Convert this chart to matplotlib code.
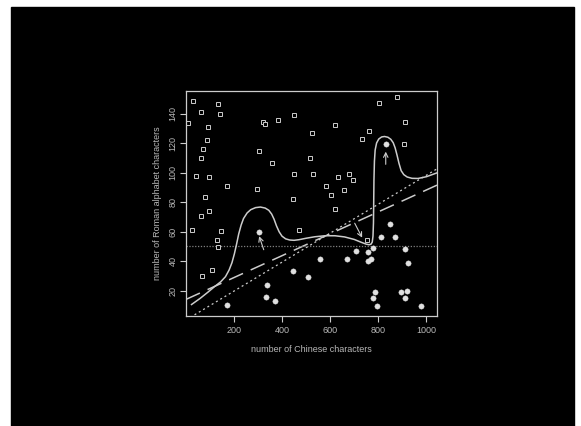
import numpy as np
import matplotlib.pyplot as plt
from matplotlib.patches import Rectangle

# squares (hollow) - x = Chinese chars, y = Roman chars
sq_x = [10, 29, 62, 93, 135, 141, 88, 73, 62, 44, 95, 82, 62, 98, 27, 145, 128, 134,
        67, 110, 171, 321, 330, 384, 448, 303, 359, 297, 445, 450, 471, 526, 515, 527,
        581, 602, 622, 619, 631, 659, 677, 695, 731, 761, 802, 879, 911, 905, 752]
sq_y = [134, 149, 141, 131, 147, 140, 122, 116, 110, 98, 97, 83.5, 70.8, 74, 61.2, 60.8,
        54.5, 49.8, 30.3, 34, 91.4, 134.6, 133, 135.7, 139.1, 114.7, 106.6, 89.2, 82.2,
        99.1, 61, 127.1, 109.8, 99.5, 91.4, 85.2, 75.5, 132.7, 97.4, 88.7, 99.5, 95,
        122.8, 128.4, 147.5, 151.6, 134.8, 119.6, 54.3]

# filled circles
ci_x = [303, 830, 338, 335, 372, 170, 445, 507, 559, 668, 708, 758, 756, 769, 777,
        810, 850, 869, 912, 925, 787, 780, 794, 894, 910, 921, 979]
ci_y = [59.8, 119.7, 24, 15.7, 13.1, 10, 33.2, 29.6, 41.5, 41.6, 46.9, 46, 40.2, 41.3,
        49, 56.6, 65, 56.3, 48.2, 39, 19.2, 15, 9.8, 19, 15.1, 20, 9.8]

# traced smooth curve
cv_x = [24, 60, 93, 120, 145, 165, 180, 192, 202, 211, 220, 230, 240, 255, 270, 290,
        310, 330, 345, 357, 367, 377, 388, 400, 415, 432, 450, 470, 500, 536, 579, 620,
        660, 700, 730, 750, 762, 770, 775, 778, 780, 781, 782, 784, 787, 793, 802, 814,
        826, 840, 852, 862, 870, 878, 886, 895, 906, 920, 940, 965, 1000, 1044]
cv_y = [10.6, 14.8, 19.1, 22.8, 26, 29.5, 34, 39, 45, 51.5, 58.5, 64.5, 69, 72.8, 75,
        76.4, 76.8, 76.1, 74.6, 72, 68.5, 64, 60, 57, 55.2, 54.4, 54.2, 54.6, 55.6, 56.6,
        57.3, 57.3, 56.5, 54.8, 52.8, 51.6, 51.2, 51.6, 53, 57, 66, 80, 95, 108, 115.5,
        120.3, 123, 124.4, 124.7, 124.2, 122.8, 120.5, 117, 112, 106.5, 101.5, 98.8, 97.2,
        96.3, 96.2, 97.4, 100]

# reference lines
dash_a, dash_b = 14.0, 0.0744   # long dashed fit
dot_a, dot_b = 0.0, 0.0984      # dotted diagonal
h_level = 50

# arrows: (tail x, tail y, head x, head y)
arrows = [(324, 47.8, 305, 57.0),
          (831, 105.8, 831, 114.4),
          (702, 65.8, 733, 56.0)]

fg = '#cccccc'
txt = '#b8b8b8'

fig = plt.figure(figsize=(5.81, 4.26), dpi=100, facecolor='white')
fig.patches.append(Rectangle((11/581, 0), (574-11)/581, 1 - 7/426,
                             transform=fig.transFigure, color='black', zorder=-10))

ax = fig.add_axes([186/581, 1 - 316/426, (437-186)/581, (316-91)/426])
ax.set_facecolor('black')
ax.set_xlim(1, 1044)
ax.set_ylim(2.8, 155.6)

xx = np.array([1, 1044])
ax.plot(xx, dash_a + dash_b * xx, color=fg, lw=1.1, dashes=(10, 5.5))
ax.plot(xx, dot_a + dot_b * xx, color=fg, lw=0.9, dashes=(1.6, 2.4))
ax.axhline(h_level, color='#808080', lw=0.9, dashes=(1, 1.3))
ax.plot(cv_x, cv_y, color=fg, lw=1.1)

ax.plot(sq_x, sq_y, 's', ms=3.2, mfc='black', mec=fg, mew=0.7, clip_on=False)
ax.plot(ci_x, ci_y, 'o', ms=3.8, mfc='#e0e0e0', mec='#e0e0e0', mew=0.3)

for x0, y0, x1, y1 in arrows:
    ax.annotate('', xy=(x1, y1), xytext=(x0, y0),
                arrowprops=dict(arrowstyle='->', color=fg, lw=0.8,
                                mutation_scale=8, shrinkA=0, shrinkB=0))

for s in ax.spines.values():
    s.set_color(fg)
    s.set_linewidth(0.9)

ax.set_xticks([200, 400, 600, 800, 1000])
ax.set_yticks([20, 40, 60, 80, 100, 120, 140])
ax.tick_params(colors=fg, labelcolor=txt, labelsize=6.5, length=4, width=0.8)
ax.tick_params(axis='y', pad=2)
for lab in ax.get_yticklabels():
    lab.set_rotation(90)
    lab.set_va('center')
for lab in ax.get_xticklabels() + ax.get_yticklabels():
    lab.set_family('Liberation Sans')

ax.set_xlabel('number of Chinese characters', color=txt, fontsize=6.5,
              family='Liberation Sans', labelpad=7)
ax.set_ylabel('number of Roman alphabet characters', color=txt, fontsize=6.5,
              family='Liberation Sans', labelpad=5)

fig.savefig('out.png', dpi=100, facecolor=fig.get_facecolor())
